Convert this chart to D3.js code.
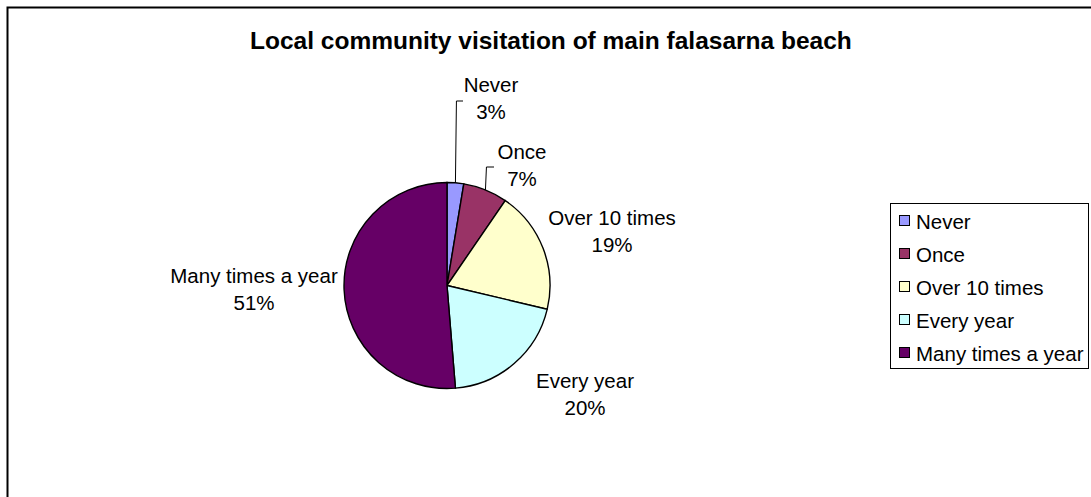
<!DOCTYPE html>
<html>
<head>
<meta charset="utf-8">
<script src="https://cdn.jsdelivr.net/npm/d3@7"></script>
<style>
  body { margin: 0; background: #fff; }
  svg { display: block; font-family: "Liberation Sans", Arial, sans-serif; }
</style>
</head>
<body>
<svg id="chart"></svg>
<script>
// Respostas (contagens)
const categories = ['Never', 'Once', 'Over 10 times', 'Every year', 'Many times a year'];
const counts = [3, 8, 22, 23, 59];
const colors = ['#9999FF', '#993366', '#FFFFCC', '#CCFFFF', '#660066'];

const width = 1091, height = 497;
const cx = 447, cy = 285.5, radius = 103;
const fontSize = 20.5;

// posição dos rótulos (centro x, linha de base)
const labelPos = [[491, 92], [522, 159], [612, 225], [585, 388], [254, 283]];
// linhas de chamada: ponto de início perto do rótulo
const leaderStart = [[463, 101], [494, 167], null, null, null];

const svg = d3.select('#chart')
    .attr('width', width)
    .attr('height', height);

// moldura do gráfico
svg.append('rect')
    .attr('x', 7.5).attr('y', 7.5)
    .attr('width', 1200).attr('height', 600)
    .attr('fill', 'none')
    .attr('stroke', '#000')
    .attr('stroke-width', 2);

// título
svg.append('text')
    .attr('x', 250)
    .attr('y', 48.5)
    .style('font-weight', 'bold')
    .style('font-size', '24.5px')
    .text('Local community visitation of main falasarna beach');

const total = d3.sum(counts);
const pie = d3.pie().sort(null).value(d => d);
const arcs = pie(counts);
const arc = d3.arc().innerRadius(0).outerRadius(radius);

const g = svg.append('g').attr('transform', `translate(${cx},${cy})`);

g.selectAll('path')
    .data(arcs)
    .enter().append('path')
    .attr('d', arc)
    .attr('fill', (d, i) => colors[i])
    .attr('stroke', '#000')
    .attr('stroke-width', 1.4);

// linhas de chamada
arcs.forEach((d, i) => {
    if (!leaderStart[i]) return;
    const a = (d.startAngle + d.endAngle) / 2;
    const px = cx + radius * Math.sin(a);
    const py = cy - radius * Math.cos(a);
    const [sx, sy] = leaderStart[i];
    svg.append('polyline')
        .attr('points', `${sx},${sy} ${px + 1},${sy} ${px},${py}`)
        .attr('fill', 'none')
        .attr('stroke', '#000')
        .attr('stroke-width', 1);
});

// rótulos
arcs.forEach((d, i) => {
    const [lx, ly] = labelPos[i];
    const t = svg.append('text')
        .attr('text-anchor', 'middle')
        .style('font-size', fontSize + 'px');
    t.append('tspan').attr('x', lx).attr('y', ly).text(categories[i]);
    t.append('tspan').attr('x', lx).attr('y', ly + 26.5)
        .text(Math.round(d.value / total * 100) + '%');
});

// legenda
const legend = svg.append('g');
legend.append('rect')
    .attr('x', 890.5).attr('y', 203.5)
    .attr('width', 198).attr('height', 165)
    .attr('fill', '#fff')
    .attr('stroke', '#000')
    .attr('stroke-width', 1);

const rowY = d3.scalePoint()
    .domain(categories)
    .range([221, 353]);

const rows = legend.selectAll('g.row')
    .data(categories)
    .enter().append('g')
    .attr('class', 'row')
    .attr('transform', d => `translate(0,${rowY(d)})`);

rows.append('rect')
    .attr('x', 899.5).attr('y', -5.5)
    .attr('width', 10).attr('height', 10)
    .attr('fill', (d, i) => colors[i])
    .attr('stroke', '#000')
    .attr('stroke-width', 1);

rows.append('text')
    .attr('x', 916)
    .attr('y', 7.5)
    .style('font-size', fontSize + 'px')
    .text(d => d);
</script>
</body>
</html>
